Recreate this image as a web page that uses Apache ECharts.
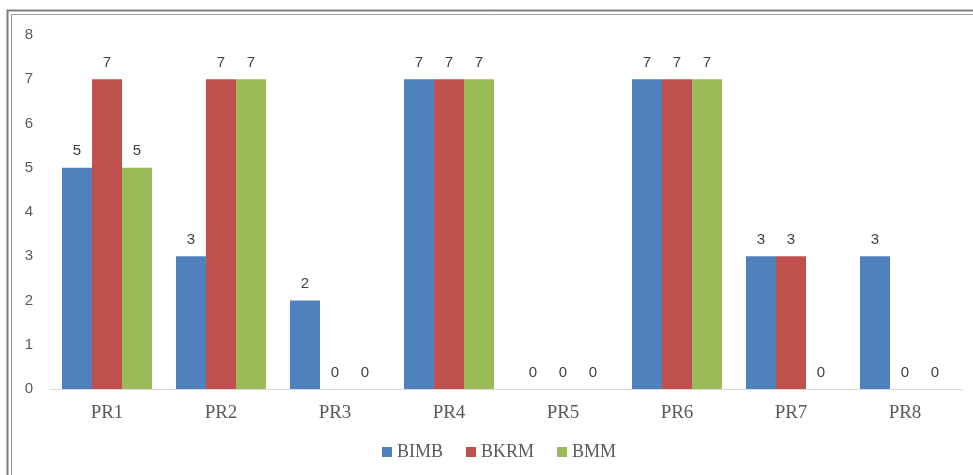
<!DOCTYPE html>
<html><head><meta charset="utf-8">
<script src="https://cdn.jsdelivr.net/npm/echarts@6/dist/echarts.min.js"></script>
<style>html,body{margin:0;padding:0;background:#fff}#c{width:973px;height:475px}</style>
</head><body><div id="c"></div>
<script>
const categories = ['PR1','PR2','PR3','PR4','PR5','PR6','PR7','PR8'];
const seriesNames = ['BIMB','BKRM','BMM'];
const bimb = [5,3,2,7,0,7,3,3];
const bkrm = [7,7,0,7,0,7,3,0];
const bmm  = [5,7,0,7,0,7,0,0];
const colors = ['#4F81BD','#C0504D','#9BBB59'];
const yTicks = {min:0, max:8, interval:1};

const chart = echarts.init(document.getElementById('c'));
const mk = (name, data, color) => ({
  name, type:'bar', data, barGap:'0%', barCategoryGap:'21%',
  itemStyle:{color},
  label:{show:true, position:'top', distance:9, color:'#404040', fontSize:15, fontFamily:'Liberation Sans, Arial, sans-serif'}
});
chart.setOption({
  animation:false,
  color:colors,
  graphic:[
    {type:'rect', shape:{x:7.5,y:10.5,width:1000,height:500}, style:{fill:'none', stroke:'#7f7f7f', lineWidth:2}},
    {type:'rect', shape:{x:11.5,y:14.5,width:1000,height:500}, style:{fill:'none', stroke:'#9a9a9a', lineWidth:1}}
  ],
  grid:{left:50, right:11, top:35, bottom:86},
  legend:{top:438, left:377, itemWidth:10, itemHeight:10, itemGap:23, icon:'rect',
    textStyle:{fontFamily:'Liberation Serif, Times New Roman, serif', fontSize:18, color:'#595959'},
    data:seriesNames},
  xAxis:{type:'category', data:categories,
    axisLine:{lineStyle:{color:'#d9d9d9'}}, axisTick:{show:false},
    axisLabel:{margin:15, fontFamily:'Liberation Serif, Times New Roman, serif', fontSize:19, color:'#595959'}},
  yAxis:{type:'value', min:yTicks.min, max:yTicks.max, interval:yTicks.interval,
    splitLine:{show:false}, axisLine:{show:false}, axisTick:{show:false},
    axisLabel:{margin:17, fontFamily:'Liberation Sans, Arial, sans-serif', fontSize:15, color:'#595959'}},
  series:[mk(seriesNames[0], bimb, colors[0]), mk(seriesNames[1], bkrm, colors[1]), mk(seriesNames[2], bmm, colors[2])]
});
</script></body></html>
